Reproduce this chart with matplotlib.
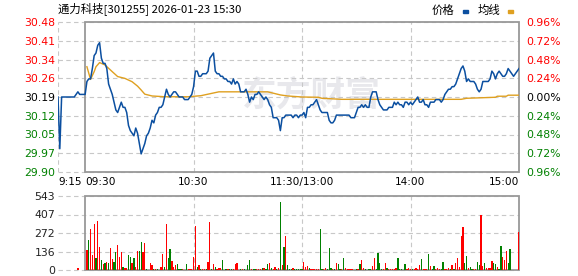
import matplotlib
matplotlib.use('Agg')
import matplotlib.pyplot as plt
from matplotlib.patches import Rectangle
from matplotlib.transforms import blended_transform_factory
import numpy as np

plt.rcParams['font.family'] = ['DejaVu Sans', 'Noto Sans CJK SC']
CJK = ['Noto Sans CJK SC', 'DejaVu Sans']

BLUE = '#0b4fa0'
ORANGE = '#dfa020'
RED = '#ff0000'
GREEN = '#008000'
GRID = '#c8c8c8'
FRAME = '#999999'

title = "通力科技[301255] 2026-01-23 15:30"
price_labels = ["30.48", "30.41", "30.34", "30.26", "30.19",
                "30.12", "30.05", "29.97", "29.90"]
pct_labels = ["0.96%", "0.72%", "0.48%", "0.24%", "0.00%",
              "0.24%", "0.48%", "0.72%", "0.96%"]
label_colors = [RED, RED, RED, RED, 'black', GREEN, GREEN, GREEN, GREEN]
vol_labels = ["543", "407", "272", "136", "0"]
time_labels = ["9:15", "09:30", "10:30", "11:30/13:00", "14:00", "15:00"]
time_pos = [-15, 0, 60, 120, 180, 240]
time_align = ['left', 'left', 'center', 'center', 'center', 'right']

# call auction 9:15-9:29 (minutes before open)
auction_min = list(range(-15, 0))
auction_price = [30.19, 29.99, 30.19, 30.19, 30.19, 30.19, 30.19, 30.19,
                 30.19, 30.19, 30.20, 30.21, 30.20, 30.20, 30.20]
auction_vol_min = [-4]
auction_vol = [15]

# one price per trading minute, 9:30 (0) .. 15:00 (240)
price = [
    30.20, 30.25, 30.26, 30.26, 30.30, 30.35, 30.36, 30.39, 30.40, 30.34,
    30.32, 30.32, 30.30, 30.24, 30.22, 30.20, 30.17, 30.14, 30.13, 30.15,
    30.17, 30.15, 30.15, 30.13, 30.08, 30.06, 30.05, 30.04, 30.07, 30.05,
    30.01, 29.97, 29.99, 30.01, 30.04, 30.05, 30.07, 30.10, 30.09, 30.12,
    30.13, 30.15, 30.15, 30.16, 30.19, 30.22, 30.20, 30.19, 30.20, 30.21,
    30.21, 30.20, 30.19, 30.19, 30.19, 30.18, 30.18, 30.18, 30.19, 30.20,
    30.23, 30.29, 30.29, 30.27, 30.27, 30.28, 30.28, 30.28, 30.29, 30.34,
    30.35, 30.36, 30.29, 30.28, 30.28, 30.27, 30.27, 30.26, 30.26, 30.25,
    30.25, 30.24, 30.26, 30.24, 30.25, 30.24, 30.21, 30.21, 30.21, 30.22,
    30.20, 30.17, 30.19, 30.18, 30.20, 30.20, 30.21, 30.20, 30.19, 30.18,
    30.19, 30.18, 30.16, 30.15, 30.11, 30.11, 30.11, 30.10, 30.06, 30.11,
    30.11, 30.12, 30.12, 30.12, 30.12, 30.11, 30.12, 30.12, 30.11, 30.12,
    30.12, 30.13, 30.11, 30.15, 30.15, 30.16, 30.16, 30.17, 30.18, 30.16,
    30.14, 30.13, 30.13, 30.13, 30.13, 30.10, 30.09, 30.09, 30.10, 30.12,
    30.12, 30.12, 30.12, 30.12, 30.12, 30.12, 30.12, 30.11, 30.11, 30.11,
    30.13, 30.15, 30.15, 30.16, 30.15, 30.16, 30.15, 30.15, 30.19, 30.21,
    30.21, 30.21, 30.18, 30.16, 30.15, 30.14, 30.14, 30.14, 30.15, 30.15,
    30.15, 30.17, 30.16, 30.17, 30.16, 30.16, 30.15, 30.17, 30.17, 30.16,
    30.17, 30.16, 30.17, 30.18, 30.19, 30.17, 30.17, 30.18, 30.16, 30.16,
    30.15, 30.17, 30.17, 30.17, 30.18, 30.18, 30.18, 30.17, 30.18, 30.20,
    30.21, 30.22, 30.22, 30.23, 30.23, 30.24, 30.26, 30.28, 30.30, 30.31,
    30.29, 30.25, 30.26, 30.25, 30.25, 30.25, 30.24, 30.22, 30.21, 30.22,
    30.25, 30.25, 30.25, 30.25, 30.26, 30.29, 30.28, 30.26, 30.28, 30.29,
    30.28, 30.27, 30.27, 30.28, 30.30, 30.29, 30.28, 30.27, 30.28, 30.29,
    30.30]

# average price line (均线), read at its turning points
avg_min = [1, 3, 5, 6, 8, 11, 15, 18, 22, 26, 29, 31, 33, 37, 44, 57, 64,
           68, 74, 101, 108, 112, 120, 129, 131, 142, 208, 211, 227, 228,
           233, 234, 240]
avg_price = [30.307, 30.258, 30.288, 30.307, 30.323, 30.314, 30.288,
             30.269, 30.262, 30.249, 30.232, 30.217, 30.201, 30.194, 30.191,
             30.191, 30.195, 30.201, 30.210, 30.210, 30.198, 30.194, 30.190,
             30.189, 30.185, 30.181, 30.181, 30.185, 30.189, 30.193, 30.193,
             30.197, 30.197]

vol = [
    0, 147, 220, 301, 110, 338, 86, 360, 166, 73,
    44, 54, 59, 51, 159, 81, 59, 132, 183, 93,
    132, 20, 15, 15, 110, 95, 54, 88, 24, 139,
    139, 205, 132, 198, 7, 3, 51, 37, 5, 7,
    7, 3, 22, 117, 22, 338, 88, 154, 68, 24,
    34, 44, 7, 7, 7, 3, 44, 7, 7, 7,
    95, 323, 20, 34, 7, 7, 7, 7, 59, 352,
    7, 44, 20, 7, 15, 15, 73, 3, 7, 7,
    7, 7, 7, 44, 51, 3, 7, 7, 7, 3,
    37, 73, 7, 7, 7, 7, 7, 7, 15, 15,
    7, 44, 51, 15, 7, 22, 7, 15, 499, 37,
    169, 252, 37, 7, 7, 15, 7, 7, 7, 7,
    7, 59, 20, 29, 15, 7, 7, 7, 7, 7,
    301, 7, 7, 15, 7, 161, 15, 7, 7, 51,
    44, 7, 7, 88, 15, 7, 7, 7, 7, 3,
    7, 7, 44, 73, 15, 7, 3, 7, 7, 29,
    88, 7, 125, 51, 7, 7, 51, 15, 7, 7,
    7, 7, 15, 88, 7, 7, 3, 44, 7, 15,
    7, 7, 7, 15, 7, 37, 81, 7, 7, 7,
    117, 29, 7, 29, 7, 15, 7, 7, 59, 7,
    7, 15, 7, 37, 7, 51, 88, 22, 249, 316,
    51, 103, 15, 22, 7, 7, 7, 59, 37, 404,
    29, 51, 15, 15, 15, 66, 51, 44, 22, 7,
    176, 95, 73, 139, 51, 154, 3, 3, 3, 3,
    279]
# 1 = red (up tick), 0 = green (down tick)
vol_up = [
    1, 1, 0, 1, 1, 1, 0, 1, 1, 0,
    1, 0, 1, 0, 1, 1, 0, 0, 1, 1,
    1, 0, 1, 1, 0, 0, 1, 0, 1, 1,
    0, 0, 1, 1, 0, 1, 1, 1, 0, 1,
    0, 1, 1, 1, 0, 1, 0, 0, 1, 1,
    1, 0, 0, 0, 1, 1, 0, 1, 1, 1,
    1, 1, 0, 1, 0, 1, 1, 0, 1, 1,
    0, 1, 0, 1, 1, 1, 0, 0, 0, 1,
    0, 0, 1, 1, 1, 1, 0, 1, 0, 0,
    0, 0, 1, 0, 0, 1, 1, 1, 0, 1,
    0, 0, 1, 0, 1, 1, 0, 1, 0, 1,
    0, 1, 0, 0, 0, 1, 0, 0, 0, 0,
    0, 1, 1, 1, 0, 1, 1, 1, 1, 1,
    0, 0, 1, 1, 0, 0, 0, 1, 0, 1,
    0, 0, 1, 0, 1, 1, 1, 1, 1, 1,
    0, 1, 0, 1, 1, 0, 0, 0, 0, 1,
    1, 0, 0, 0, 0, 1, 1, 0, 1, 1,
    1, 1, 1, 0, 0, 0, 0, 0, 1, 1,
    1, 0, 1, 1, 1, 1, 0, 1, 1, 1,
    0, 1, 0, 0, 1, 1, 1, 0, 0, 1,
    1, 1, 0, 1, 0, 1, 1, 1, 1, 1,
    0, 0, 1, 0, 0, 1, 1, 0, 0, 1,
    1, 0, 1, 1, 1, 1, 0, 0, 1, 0,
    0, 1, 1, 1, 0, 0, 0, 1, 1, 1,
    1]

W, H = 578, 276
fig = plt.figure(figsize=(W / 100, H / 100), dpi=100)
ax = fig.add_axes([58 / W, 1 - 172 / H, 461 / W, 150 / H])
axv = fig.add_axes([58 / W, 1 - 270 / H, 461 / W, 74 / H])

pmin, pmax = 29.90, 30.48
vmax = 543
dash = (0, (4, 3))

# ---- price panel ----
ax.set_xlim(-15, 240)
ax.set_ylim(pmin, pmax)
for sp in ax.spines.values():
    sp.set_visible(False)
yt = np.linspace(pmax, pmin, 9)
ax.hlines(yt, -15, 240, colors=GRID, linestyles=dash, lw=0.8, zorder=1, clip_on=False)
ax.vlines([-15, 60, 120, 180], pmin, pmax, colors=GRID, linestyles=dash, lw=0.8, zorder=1)
ax.add_patch(Rectangle((0, pmin), 240, pmax - pmin, fill=False, ec=FRAME,
                       lw=1.3, clip_on=False, zorder=2))
ax.text(0.55, 0.51, "东方财富", transform=ax.transAxes, family=CJK,
        fontsize=25, fontweight='bold', color='#e8e8ec', ha='center',
        va='center', zorder=0)

ax.plot(avg_min, avg_price, color=ORANGE, lw=1.0, zorder=3)
ax.plot(auction_min + list(range(len(price))), auction_price + price,
        color=BLUE, lw=1.1, zorder=4)

ax.set_xticks([])
ax.set_yticks(yt)
ax.set_yticklabels(price_labels)
ax.tick_params(axis='y', length=0, pad=2, labelsize=7.8)
for lbl, c in zip(ax.get_yticklabels(), label_colors):
    lbl.set_color(c)

axr = ax.twinx()
axr.set_ylim(pmin, pmax)
for sp in axr.spines.values():
    sp.set_visible(False)
axr.set_yticks(yt)
axr.set_yticklabels(pct_labels)
axr.tick_params(axis='y', length=0, pad=5, labelsize=7.8)
for lbl, c in zip(axr.get_yticklabels(), label_colors):
    lbl.set_color(c)

tr = blended_transform_factory(ax.transData, ax.transAxes)
for lab, xp, al in zip(time_labels, time_pos, time_align):
    ax.text(xp, -0.068, lab, transform=tr, ha=al, va='center', fontsize=7.6)

# ---- volume panel ----
axv.set_xlim(-15, 240)
axv.set_ylim(0, vmax)
for sp in axv.spines.values():
    sp.set_visible(False)
vt = np.linspace(vmax, 0, 5)
axv.hlines(vt, -15, 240, colors=GRID, linestyles=dash, lw=0.8, zorder=1, clip_on=False)
axv.vlines([60, 120, 180], 0, vmax, colors=GRID, linestyles=dash, lw=0.8, zorder=1)
axv.add_patch(Rectangle((0, 0), 240, vmax, fill=False, ec=FRAME,
                        lw=1.3, clip_on=False, zorder=2))
bar_colors = [RED if u else GREEN for u in vol_up]
axv.bar(range(len(vol)), vol, width=0.7, color=bar_colors, zorder=3)
axv.bar(auction_vol_min, auction_vol, width=0.7, color=RED, zorder=3)
axv.set_xticks([])
axv.set_yticks(vt)
axv.set_yticklabels(vol_labels)
axv.tick_params(axis='y', length=0, pad=2, labelsize=7.8, labelcolor='#222222')

# ---- title and legend ----
fig.text(58 / W, 1 - 9 / H, title, family=CJK, fontsize=8.2, ha='left', va='center')
fig.text(443 / W, 1 - 10 / H, "价格", family=CJK, fontsize=8.2, ha='center', va='center')
fig.text(489 / W, 1 - 10 / H, "均线", family=CJK, fontsize=8.2, ha='center', va='center')
fig.add_artist(Rectangle((463 / W, 1 - 13 / H), 5 / W, 2.5 / H,
                         transform=fig.transFigure, color=BLUE))
fig.add_artist(Rectangle((508 / W, 1 - 13 / H), 5 / W, 2.5 / H,
                         transform=fig.transFigure, color=ORANGE))

fig.savefig('out.png', dpi=100)
plt.close()
